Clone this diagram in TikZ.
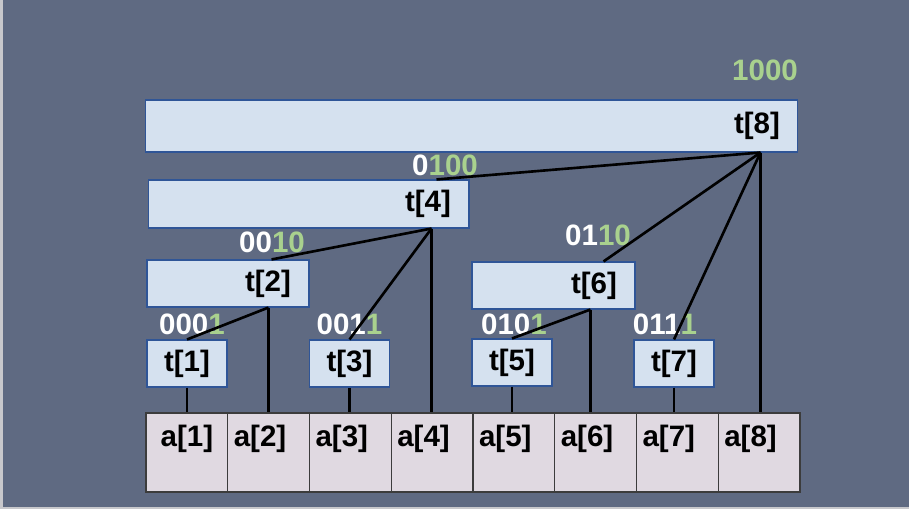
\documentclass[tikz,border=0pt]{standalone}
\usepackage{fontspec}
\setmainfont{Liberation Sans}
\usetikzlibrary{positioning}
\definecolor{bgslate}{RGB}{95,106,130}
\definecolor{bgedge}{RGB}{200,200,204}
\definecolor{boxfill}{RGB}{213,225,239}
\definecolor{boxline}{RGB}{47,85,151}
\definecolor{cellfill}{RGB}{224,217,225}
\definecolor{cellline}{RGB}{60,60,60}
\definecolor{bitgreen}{RGB}{169,209,142}
\newcommand{\treefont}{\fontsize{16.8}{20}\selectfont\bfseries}
\tikzstyle{treebox}=[draw=boxline,fill=boxfill,line width=0.6pt,inner xsep=0.36cm,inner ysep=0pt,align=right,font=\treefont]
\tikzstyle{leafbox}=[treebox,inner xsep=0pt,text width=1.6cm,align=center]
\tikzstyle{arraycell}=[draw=cellline,fill=cellfill,line width=0.6pt,minimum width=1.635cm,text width=1.395cm,inner xsep=0.12cm,inner ysep=0pt,text height=0.68cm,text depth=0.90cm,font=\treefont]
\tikzstyle{bitlabel}=[white,inner sep=0pt,font=\treefont]
\tikzstyle{link}=[line width=1.5pt]

\begin{document}
\begin{tikzpicture}[x=0.02cm,y=-0.02cm]

\fill[bgedge] (0,0) rectangle (909,509);
\fill[bgslate] (3,0) rectangle (909,507);

% tree boxes
\node[treebox,text width=12.34cm,minimum height=1.04cm] (t8) at (471.5,126) {t[8]};
\node[treebox,text width=5.70cm,minimum height=0.96cm] (t4) at (308.5,204) {t[4]};
\node[treebox,text width=2.52cm,minimum height=0.94cm] (t2) at (228,283.5) {t[2]};
\node[treebox,text width=2.54cm,minimum height=0.94cm] (t6) at (553.5,285.5) {t[6]};
\node[leafbox,minimum height=0.94cm] (t1) at (187,363.5) {t[1]};
\node[leafbox,minimum height=0.94cm] (t3) at (349.5,363.5) {t[3]};
\node[leafbox,minimum height=0.94cm] (t5) at (512,362.5) {t[5]};
\node[leafbox,minimum height=0.94cm] (t7) at (674,363.5) {t[7]};

% array
\foreach \i/\al in {1/center,2/left,3/left,4/left,5/left,6/left,7/left,8/left}
  \node[arraycell,align=\al] (a\i) at ({146+81.75*(\i-0.5)},452.5) {a[\i]};

% binary labels
\node[bitlabel] (b8) at (765,70) {\textcolor{bitgreen}{1000}};
\node[bitlabel] (b4) at (445,165) {0\textcolor{bitgreen}{100}};
\node[bitlabel] (b2) at (272,242) {00\textcolor{bitgreen}{10}};
\node[bitlabel] (b6) at (598,235) {01\textcolor{bitgreen}{10}};
\node[bitlabel] (b1) at (192,324) {000\textcolor{bitgreen}{1}};
\node[bitlabel] (b3) at (349.5,324) {001\textcolor{bitgreen}{1}};
\node[bitlabel] (b5) at (514,324) {010\textcolor{bitgreen}{1}};
\node[bitlabel] (b7) at (665,324) {011\textcolor{bitgreen}{1}};

\coordinate[shift={(-38,0)}] (t8b) at (t8.south east);
\coordinate[shift={(-33,0)}] (t4t) at (t4.north east);
\coordinate[shift={(-38,0)}] (t4b) at (t4.south east);
\coordinate[shift={(-38,0)}] (t2t) at (t2.north east);
\coordinate[shift={(-41,0)}] (t2b) at (t2.south east);
\coordinate[shift={(-32,0)}] (t6t) at (t6.north east);
\coordinate[shift={(-45,0)}] (t6b) at (t6.south east);

\draw[link] (t8b) -- (t4t);
\draw[link] (t8b) -- (t6t);
\draw[link] (t8b) -- (t7.north);
\draw[link] (t8b) -- (t8b |- a8.north);
\draw[link] (t4b) -- (t2t);
\draw[link] (t4b) -- (t3.north);
\draw[link] (t4b) -- (t4b |- a4.north);
\draw[link] (t2b) -- (t1.north);
\draw[link] (t2b) -- (t2b |- a2.north);
\draw[link] (t6b) -- (t5.north);
\draw[link] (t6b) -- (t6b |- a6.north);
\foreach \k in {1,3,5,7}
  \draw[link] (t\k.south) -- (t\k.south |- a\k.north);

\end{tikzpicture}
\end{document}
